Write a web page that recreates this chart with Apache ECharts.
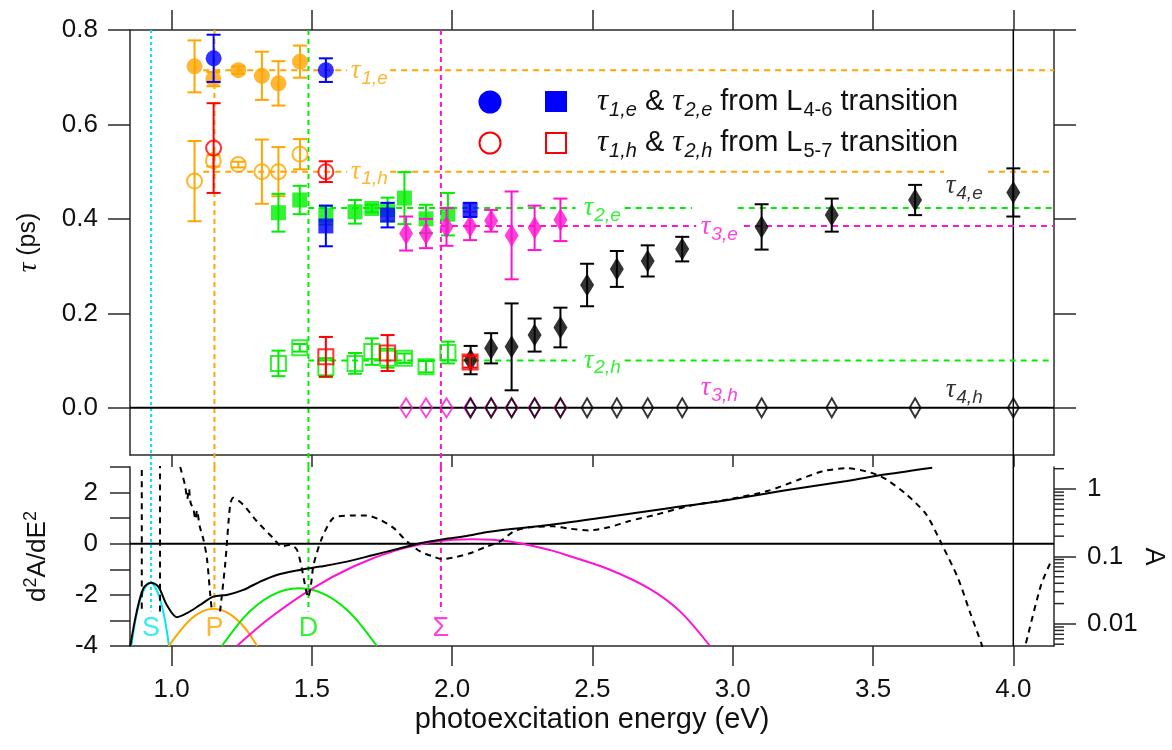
<!DOCTYPE html>
<html><head><meta charset="utf-8">
<script src="https://cdn.jsdelivr.net/npm/echarts@6/dist/echarts.min.js"></script>
<style>html,body{margin:0;padding:0;background:#fff}#c{width:1172px;height:750px}</style>
</head><body><div id="c"></div>
<script>
// ---------------- DATA ----------------
const xTicks = [1.0, 1.5, 2.0, 2.5, 3.0, 3.5, 4.0];
const tauTicks = [0, 0.2, 0.4, 0.6, 0.8];
const d2Ticks = [-4, -3, -2, -1, 0, 1, 2, 3];
const d2Labels = [-4, -2, 0, 2];
const aTicks = [0.01, 0.1, 1];
const aMinorTicks = [0.005,0.006,0.007,0.008,0.009,0.02,0.03,0.04,0.05,0.06,0.07,0.08,0.09,0.2,0.3,0.4,0.5,0.6,0.7,0.8,0.9,2];

// tau_1 (orange, from fits)
const orangeE = [1.082, 1.149, 1.238, 1.322, 1.381, 1.458];
const tau1eOrange = [0.723, 0.696, 0.715, 0.703, 0.687, 0.733];
const tau1eOrangeErr = [0.055, 0.015, 0.008, 0.051, 0.047, 0.034];
const tau1hOrange = [0.480, 0.523, 0.515, 0.500, 0.500, 0.537];
const tau1hOrangeErr = [0.085, 0.012, 0.006, 0.068, 0.052, 0.032];
// tau_1 from L4-6 (blue) / L5-7 (red)
const blueCircE = [1.150, 1.550];
const tau1eBlue = [0.740, 0.715];
const tau1eBlueErr = [0.050, 0.025];
const redCircE = [1.150, 1.550];
const tau1hRed = [0.550, 0.500];
const tau1hRedErr = [0.095, 0.022];
// tau_2 (green)
const greenE = [1.381, 1.457, 1.550, 1.654, 1.714, 1.770, 1.830, 1.907, 1.985];
const tau2eGreen = [0.413, 0.440, 0.408, 0.415, 0.422, 0.420, 0.444, 0.400, 0.410];
const tau2eGreenErr = [0.040, 0.030, 0.020, 0.025, 0.008, 0.025, 0.055, 0.030, 0.045];
const tau2hGreen = [0.094, 0.127, 0.085, 0.094, 0.119, 0.105, 0.105, 0.087, 0.117];
const tau2hGreenErr = [0.027, 0.008, 0.020, 0.022, 0.028, 0.020, 0.010, 0.012, 0.023];
const blueSqE = [1.550, 1.770, 2.064];
const tau2eBlue = [0.385, 0.408, 0.419];
const tau2eBlueErr = [0.043, 0.026, 0.015];
const redSqE = [1.550, 1.770, 2.064];
const tau2hRed = [0.108, 0.116, 0.097];
const tau2hRedErr = [0.042, 0.038, 0.012];
// tau_3 (magenta)
const magE = [1.836, 1.907, 1.980, 2.064, 2.139, 2.212, 2.294, 2.386];
const tau3e = [0.369, 0.369, 0.383, 0.385, 0.396, 0.365, 0.381, 0.398];
const tau3eErr = [0.036, 0.031, 0.040, 0.030, 0.023, 0.093, 0.047, 0.045];
const tau3h = [0, 0, 0, 0, 0, 0, 0, 0];
// tau_4 (black)
const blackE = [2.066, 2.139, 2.212, 2.294, 2.386, 2.481, 2.587, 2.697, 2.820, 3.103, 3.353, 3.650, 4.000];
const tau4e = [0.101, 0.126, 0.129, 0.154, 0.170, 0.260, 0.294, 0.311, 0.336, 0.383, 0.408, 0.440, 0.456];
const tau4eErr = [0.030, 0.032, 0.092, 0.035, 0.042, 0.045, 0.038, 0.033, 0.026, 0.048, 0.035, 0.032, 0.051];
const tau4h = [0, 0, 0, 0, 0, 0, 0, 0, 0, 0, 0, 0, 0];

// average levels (dashed guides) and their extents in energy
const levelTau1e = 0.715, levelTau1h = 0.500, levelTau2e = 0.423, levelTau2h = 0.100, levelTau3e = 0.385;
const tau1eSegs = [[1.113, 1.626], [1.779, 4.145]];
const tau1hSegs = [[1.113, 1.626], [1.779, 3.753], [3.910, 4.145]];
const tau2eSegs = [[1.487, 2.440], [2.615, 2.855], [3.018, 4.145]];
const tau2hSegs = [[1.487, 2.440], [2.615, 4.145]];
const tau3eSegs = [[1.960, 2.870], [3.040, 4.145]];

// level labels
const tauLabelSub = ['1,e', '1,h', '2,e', '2,h', '3,e', '3,h', '4,e', '4,h'];
const tauLabelE = [1.637, 1.637, 2.467, 2.467, 2.884, 2.884, 3.757, 3.757];
const tauLabelTau = [0.713, 0.500, 0.423, 0.100, 0.382, 0.042, 0.470, 0.038];

// transitions
const transitionNames = ['S', 'P', 'D', 'Σ'];
const transitionE = [0.927, 1.153, 1.488, 1.960];
const transitionLabelD2 = [-3.3, -3.3, -3.3, -3.3];
const markerLineEnd = -2.65;

// second derivative d2A/dE2 (dashed), null = gap
const d2Curve = [
  [0.894, 3.3], [0.894, -2.65], null,
  [0.959, -2.65], [0.959, 3.3], null,
  [1.031, 3.0], [1.048, 2.3], [1.056, 1.75], [1.062, 2.15], [1.068, 1.6], [1.078, 1.35], [1.085, 0.95], [1.091, 1.3], [1.100, 0.7], [1.114, 0.15], [1.126, -0.55], [1.138, -2.0], [1.144, -2.65], null,
  [1.173, -2.65], [1.191, -0.83], [1.209, 1.53], [1.220, 1.80], [1.255, 1.53], [1.304, 0.88], [1.362, 0.22], [1.393, -0.11], [1.423, -0.04], [1.447, -0.24], [1.464, -0.95], [1.478, -1.75], [1.487, -2.1],
  [1.497, -1.6], [1.506, -0.83], [1.536, 0.22], [1.577, 1.01], [1.636, 1.10], [1.696, 1.10], [1.743, 0.94], [1.790, 0.63], [1.839, 0.09], [1.886, -0.30], [1.932, -0.50], [1.963, -0.60], [2.005, -0.54], [2.064, -0.37], [2.124, -0.11], [2.171, 0.09], [2.219, 0.48], [2.276, 0.64], [2.360, 0.68], [2.417, 0.59], [2.488, 0.52], [2.558, 0.64], [2.629, 0.88], [2.728, 1.14], [2.841, 1.47], [2.983, 1.73], [3.124, 2.06], [3.237, 2.51], [3.322, 2.84], [3.407, 2.95], [3.492, 2.78], [3.548, 2.51], [3.619, 1.93], [3.690, 1.14], [3.746, -0.04], [3.803, -1.35], [3.845, -2.66], [3.888, -3.97], [3.895, -4.3], null,
  [4.035, -4.3], [4.043, -3.97], [4.099, -1.61], [4.134, -0.70]
];
// absorbance A (solid, log right axis)
const absCurve = [
  [0.853, 0.0047], [0.876, 0.0152], [0.900, 0.0338], [0.927, 0.0409], [0.953, 0.0357], [0.983, 0.0191], [1.019, 0.01256], [1.055, 0.0144], [1.102, 0.0191], [1.149, 0.0254], [1.197, 0.0269], [1.256, 0.0319], [1.316, 0.0424], [1.375, 0.0532], [1.458, 0.0631], [1.530, 0.0707], [1.625, 0.0838], [1.720, 0.1052], [1.815, 0.132], [1.886, 0.157], [1.969, 0.180], [2.052, 0.201], [2.134, 0.233], [2.346, 0.293], [2.558, 0.389], [2.771, 0.518], [2.983, 0.687], [3.195, 0.966], [3.407, 1.315], [3.548, 1.652], [3.711, 2.07]
];
// Gaussian components (log right axis)
const compS = [[0.857, 0.0047], [0.870, 0.0106], [0.885, 0.0205], [0.900, 0.031], [0.912, 0.038], [0.924, 0.0407], [0.936, 0.038], [0.948, 0.031], [0.963, 0.0205], [0.978, 0.0106], [0.991, 0.0047]];
const compP = [[0.990, 0.0047], [1.030, 0.0078], [1.070, 0.0119], [1.110, 0.0153], [1.150, 0.0167], [1.190, 0.0153], [1.230, 0.0119], [1.270, 0.0078], [1.305, 0.0047]];
const compD = [[1.179, 0.0047], [1.255, 0.0121], [1.305, 0.019], [1.355, 0.0262], [1.405, 0.0318], [1.455, 0.0338], [1.505, 0.0318], [1.555, 0.0262], [1.605, 0.019], [1.655, 0.0121], [1.732, 0.0047]];
const compSigma = [[1.233, 0.0047], [1.350, 0.0122], [1.500, 0.0331], [1.650, 0.0716], [1.800, 0.123], [1.950, 0.168], [2.070, 0.180], [2.200, 0.168], [2.350, 0.124], [2.417, 0.1016], [2.558, 0.0646], [2.700, 0.0338], [2.813, 0.0152], [2.919, 0.0047]];

// ---------------- STYLE ----------------
const COL = {orange:'#ffa500', blue:'#0000ff', red:'#ff0000', green:'#00ee00', magenta:'#ff12d0', cyan:'#00e8f0', black:'#000000'};
const FONT = 'Liberation Sans';
const AX = '#2a2a2a';
const X_MIN = 0.852, X_MAX = 4.145;
const TAU_MIN = -0.1, TAU_MAX = 0.8;
const A_MIN = 0.0047, A_MAX = 2.12;
const TICK_FS = 26;

const chart = echarts.init(document.getElementById('c'));

function errSeries(E, Y, Err, color, z) {
  return {
    type: 'custom', xAxisIndex: 0, yAxisIndex: 0, z: z, clip: false, silent: true,
    encode: {x: 0, y: 1},
    data: E.map((e, i) => [e, Y[i], Err[i]]),
    renderItem: function (params, api) {
      const x = api.value(0), y = api.value(1), e = api.value(2);
      const t = api.coord([x, y + e]), b = api.coord([x, y - e]);
      const st = {stroke: color, lineWidth: 2};
      const cw = 7;
      return {type: 'group', children: [
        {type: 'line', shape: {x1: t[0], y1: t[1], x2: b[0], y2: b[1]}, style: st},
        {type: 'line', shape: {x1: t[0] - cw, y1: t[1], x2: t[0] + cw, y2: t[1]}, style: st},
        {type: 'line', shape: {x1: b[0] - cw, y1: b[1], x2: b[0] + cw, y2: b[1]}, style: st}
      ]};
    }
  };
}
function pts(E, Y, color, symbol, size, open, z) {
  return {
    type: 'scatter', xAxisIndex: 0, yAxisIndex: 0, z: z, silent: true,
    symbol: symbol, symbolSize: size,
    itemStyle: open ? {color: 'rgba(255,255,255,0)', borderColor: color, borderWidth: 2} : {color: color},
    data: E.map((e, i) => [e, Y[i]])
  };
}
function group(E, Y, Err, color, symbol, size, open, z) {
  const out = [];
  if (Err) out.push(errSeries(E, Y, Err, color, z));
  out.push(pts(E, Y, color, symbol, size, open, z + 0.5));
  return out;
}
function hLine(segs, level, color, dash) {
  return segs.map(s => ({
    type: 'line', xAxisIndex: 0, yAxisIndex: 0, symbol: 'none', silent: true, z: 1,
    lineStyle: {color: color, width: 2, type: dash || [6, 5]},
    data: [[s[0], level], [s[1], level]]
  }));
}
function vLine(E, color, dash, width) {
  return [
    {type: 'line', xAxisIndex: 0, yAxisIndex: 0, symbol: 'none', silent: true, z: 1, clip: false,
      lineStyle: {color: color, width: width || 2, type: dash},
      data: [[E, TAU_MAX], [E, TAU_MIN - 0.026]]},
    {type: 'line', xAxisIndex: 2, yAxisIndex: 2, symbol: 'none', silent: true, z: 1,
      lineStyle: {color: color, width: width || 2, type: dash},
      data: [[E, 3], [E, markerLineEnd]]}
  ];
}

const series = [];
series.push(...vLine(transitionE[0], COL.cyan, [3, 3]));
series.push(...vLine(transitionE[1], COL.orange, [5, 4]));
series.push(...vLine(transitionE[2], COL.green, [5, 4]));
series.push(...vLine(transitionE[3], COL.magenta, [5, 4]));
series.push({type: 'line', xAxisIndex: 0, yAxisIndex: 0, symbol: 'none', silent: true, z: 1, clip: false,
  lineStyle: {color: '#000', width: 1.5}, data: [[4.0, TAU_MAX], [4.0, TAU_MIN - 0.026]]});
series.push({type: 'line', xAxisIndex: 2, yAxisIndex: 2, symbol: 'none', silent: true, z: 1,
  lineStyle: {color: '#000', width: 1.5}, data: [[4.0, 3], [4.0, -4]]});
series.push({type: 'line', xAxisIndex: 0, yAxisIndex: 0, symbol: 'none', silent: true, z: 1,
  lineStyle: {color: '#000', width: 2}, data: [[X_MIN, 0], [X_MAX, 0]]});
series.push({type: 'line', xAxisIndex: 2, yAxisIndex: 2, symbol: 'none', silent: true, z: 1,
  lineStyle: {color: '#000', width: 2}, data: [[X_MIN, 0], [X_MAX, 0]]});
series.push(...hLine(tau1eSegs, levelTau1e, COL.orange));
series.push(...hLine(tau1hSegs, levelTau1h, COL.orange));
series.push(...hLine(tau2eSegs, levelTau2e, COL.green));
series.push(...hLine(tau2hSegs, levelTau2h, COL.green));
series.push(...hLine(tau3eSegs, levelTau3e, COL.magenta));

series.push(...group(orangeE, tau1eOrange, tau1eOrangeErr, COL.orange, 'circle', 16, false, 3));
series.push(...group(orangeE, tau1hOrange, tau1hOrangeErr, COL.orange, 'circle', 15, true, 3));
series.push(...group(greenE, tau2eGreen, tau2eGreenErr, COL.green, 'rect', 15, false, 4));
series.push(...group(greenE, tau2hGreen, tau2hGreenErr, COL.green, 'rect', 15, true, 4));
series.push(...group(blueCircE, tau1eBlue, tau1eBlueErr, COL.blue, 'circle', 16, false, 5));
series.push(...group(redCircE, tau1hRed, tau1hRedErr, COL.red, 'circle', 15, true, 5));
series.push(...group(magE, tau3e, tau3eErr, COL.magenta, 'diamond', [14, 23], false, 6));
series.push(...group(magE, tau3h, null, COL.magenta, 'diamond', [12, 19], true, 6));
series.push(...group(blueSqE, tau2eBlue, tau2eBlueErr, COL.blue, 'rect', 15, false, 7));
series.push(...group(blackE, tau4e, tau4eErr, COL.black, 'diamond', [14, 23], false, 7));
series.push(...group(blackE, tau4h, null, COL.black, 'diamond', [11, 19], true, 7));
series.push(...group(redSqE, tau2hRed, tau2hRedErr, COL.red, 'rect', 15, true, 8));

const labelColors = [COL.orange, COL.orange, COL.green, COL.green, COL.magenta, COL.magenta, COL.black, COL.black];
series.push({
  type: 'scatter', xAxisIndex: 0, yAxisIndex: 0, z: 9, silent: true, symbolSize: 1,
  itemStyle: {color: 'rgba(0,0,0,0)'},
  data: tauLabelE.map((e, i) => ({value: [e, tauLabelTau[i]], label: {color: labelColors[i]}})),
  label: {show: true, position: 'right', distance: 0,
    formatter: p => '{t|τ}{s|' + tauLabelSub[p.dataIndex] + '}',
    rich: {t: {fontFamily: 'Liberation Serif', fontStyle: 'italic', fontSize: 27},
           s: {fontFamily: FONT, fontStyle: 'italic', fontSize: 19, padding: [15, 0, 0, 1]}}}
});

series.push({type: 'line', xAxisIndex: 2, yAxisIndex: 3, symbol: 'none', silent: true, z: 3, smooth: 0.3,
  lineStyle: {color: COL.cyan, width: 2}, data: compS});
series.push({type: 'line', xAxisIndex: 2, yAxisIndex: 3, symbol: 'none', silent: true, z: 3, smooth: 0.3,
  lineStyle: {color: COL.orange, width: 2}, data: compP});
series.push({type: 'line', xAxisIndex: 2, yAxisIndex: 3, symbol: 'none', silent: true, z: 3, smooth: 0.3,
  lineStyle: {color: COL.green, width: 2}, data: compD});
series.push({type: 'line', xAxisIndex: 2, yAxisIndex: 3, symbol: 'none', silent: true, z: 3, smooth: 0.3,
  lineStyle: {color: COL.magenta, width: 2}, data: compSigma});
series.push({type: 'line', xAxisIndex: 2, yAxisIndex: 3, symbol: 'none', silent: true, z: 4, smooth: 0.3,
  lineStyle: {color: '#000', width: 2}, data: absCurve});
series.push({type: 'line', xAxisIndex: 2, yAxisIndex: 2, symbol: 'none', silent: true, z: 4, smooth: 0.25,
  connectNulls: false, lineStyle: {color: '#000', width: 2, type: [6, 5]}, data: d2Curve});
series.push({
  type: 'scatter', xAxisIndex: 2, yAxisIndex: 2, z: 9, silent: true, symbolSize: 1,
  itemStyle: {color: 'rgba(0,0,0,0)'},
  data: transitionE.map((e, i) => ({value: [e, transitionLabelD2[i]],
    label: {color: [COL.cyan, COL.orange, COL.green, COL.magenta][i]}})),
  label: {show: true, position: 'inside', fontFamily: FONT, fontSize: 27,
    formatter: p => transitionNames[p.dataIndex]}
});
series.push({
  type: 'custom', xAxisIndex: 2, yAxisIndex: 3, clip: false, silent: true, z: 10,
  encode: {x: 0, y: 1},
  data: aMinorTicks.map(v => [X_MAX, v]),
  renderItem: function (params, api) {
    const p = api.coord([api.value(0), api.value(1)]);
    return {type: 'line', shape: {x1: p[0], y1: p[1], x2: p[0] + 10, y2: p[1]},
      style: {stroke: AX, lineWidth: 1.5}};
  }
});

const lineSt = {color: AX, width: 1.5};
const labelSt = {fontFamily: FONT, fontSize: TICK_FS, color: '#111'};
const legendRich = {
  t: {fontFamily: 'Liberation Serif', fontStyle: 'italic', fontSize: 31},
  s: {fontFamily: FONT, fontStyle: 'italic', fontSize: 20, padding: [16, 0, 0, 1]},
  d: {fontFamily: FONT, fontSize: 20, padding: [16, 0, 0, 1]},
  n: {fontFamily: FONT, fontSize: 29}
};

const option = {
  animation: false,
  backgroundColor: '#fff',
  grid: [
    {left: 130, top: 30, width: 924, height: 425, outerBoundsMode: 'none', containLabel: false},
    {left: 130, top: 467, width: 924, height: 179, outerBoundsMode: 'none', containLabel: false}
  ],
  xAxis: [
    {type: 'value', gridIndex: 0, position: 'bottom', min: X_MIN, max: X_MAX,
      axisLine: {show: true, onZero: false, lineStyle: lineSt},
      axisTick: {show: true, customValues: xTicks, length: 12, lineStyle: lineSt},
      axisLabel: {show: false}, splitLine: {show: false}},
    {type: 'value', gridIndex: 0, position: 'top', min: X_MIN, max: X_MAX,
      axisLine: {show: true, onZero: false, lineStyle: lineSt},
      axisTick: {show: true, customValues: xTicks, length: 20, lineStyle: lineSt},
      axisLabel: {show: false}, splitLine: {show: false}},
    {type: 'value', gridIndex: 1, position: 'bottom', min: X_MIN, max: X_MAX,
      axisLine: {show: true, onZero: false, lineStyle: lineSt},
      axisTick: {show: true, customValues: xTicks, length: 20, lineStyle: lineSt},
      axisLabel: Object.assign({customValues: xTicks, margin: 31, formatter: v => v.toFixed(1)}, labelSt),
      splitLine: {show: false},
      name: 'photoexcitation energy (eV)', nameLocation: 'middle', nameGap: 59,
      nameTextStyle: {fontFamily: FONT, fontSize: 29, color: '#111'}}
  ],
  yAxis: [
    {type: 'value', gridIndex: 0, position: 'left', min: TAU_MIN, max: TAU_MAX,
      axisLine: {show: true, onZero: false, lineStyle: lineSt},
      axisTick: {show: true, customValues: tauTicks, length: 22, lineStyle: lineSt},
      axisLabel: Object.assign({customValues: tauTicks, margin: 32, formatter: v => v.toFixed(1)}, labelSt),
      splitLine: {show: false},
      name: '{t|τ} (ps)', nameLocation: 'middle', nameGap: 88,
      nameTextStyle: {fontFamily: FONT, fontSize: 25, color: '#111',
        rich: {t: {fontFamily: 'Liberation Serif', fontStyle: 'italic', fontSize: 27, color: '#111'}}}},
    {type: 'value', gridIndex: 0, position: 'right', min: TAU_MIN, max: TAU_MAX,
      axisLine: {show: true, onZero: false, lineStyle: lineSt},
      axisTick: {show: true, customValues: tauTicks, length: 22, lineStyle: lineSt},
      axisLabel: {show: false}, splitLine: {show: false}},
    {type: 'value', gridIndex: 1, position: 'left', min: -4, max: 3, interval: 1,
      axisLine: {show: true, onZero: false, lineStyle: lineSt},
      axisTick: {show: true, customValues: d2Ticks, length: 20, lineStyle: lineSt},
      axisLabel: Object.assign({customValues: d2Labels, margin: 32}, labelSt),
      splitLine: {show: false},
      name: '{n|d}{p|2}{n|A/dE}{p|2}', nameLocation: 'middle', nameGap: 76,
      nameTextStyle: {fontFamily: FONT, fontSize: 26, color: '#111',
        rich: {n: {fontFamily: FONT, fontSize: 26, color: '#111'},
               p: {fontFamily: FONT, fontSize: 18, color: '#111', padding: [0, 0, 14, 0]}}}},
    {type: 'log', logBase: 10, gridIndex: 1, position: 'right', min: A_MIN, max: A_MAX,
      axisLine: {show: true, onZero: false, lineStyle: lineSt},
      axisTick: {show: true, customValues: aTicks, length: 22, lineStyle: lineSt},
      axisLabel: Object.assign({customValues: aTicks, margin: 33, formatter: v => String(v)}, labelSt),
      splitLine: {show: false},
      name: 'A', nameLocation: 'middle', nameGap: 86, nameRotate: -90, nameMoveOverlap: false,
      nameTextStyle: {fontFamily: FONT, fontSize: 27, color: '#111'}}
  ],
  graphic: [
    {type: 'circle', silent: true, shape: {cx: 490, cy: 102, r: 11.5}, style: {fill: COL.blue}},
    {type: 'rect', silent: true, shape: {x: 545, y: 91, width: 22, height: 21}, style: {fill: COL.blue}},
    {type: 'text', silent: true, x: 597, y: 102, style: {
      text: '{t|τ}{s|1,e}{n| & }{t|τ}{s|2,e}{n| from L}{d|4-6}{n| transition}',
      verticalAlign: 'middle', fill: '#111', rich: legendRich}},
    {type: 'circle', silent: true, shape: {cx: 490, cy: 143, r: 10.5}, style: {fill: 'none', stroke: COL.red, lineWidth: 2}},
    {type: 'rect', silent: true, shape: {x: 546, y: 133, width: 20, height: 20}, style: {fill: 'none', stroke: COL.red, lineWidth: 2}},
    {type: 'text', silent: true, x: 597, y: 143, style: {
      text: '{t|τ}{s|1,h}{n| & }{t|τ}{s|2,h}{n| from L}{d|5-7}{n| transition}',
      verticalAlign: 'middle', fill: '#111', rich: legendRich}}
  ],
  series: series
};
chart.setOption(option);
</script></body></html>
